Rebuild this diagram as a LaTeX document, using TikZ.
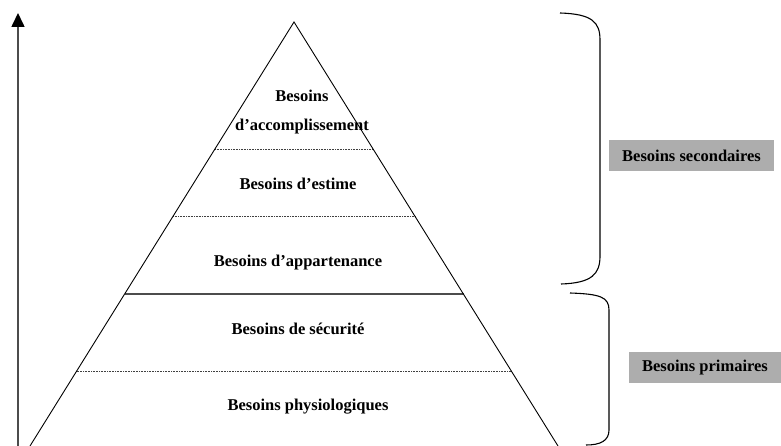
\documentclass[tikz,border=0pt]{standalone}
\usepackage{fontspec}
\setmainfont{Liberation Serif}
\usetikzlibrary{arrows.meta}
\begin{document}
\begin{tikzpicture}[x=1pt,y=-1pt,
  lbl/.style={font=\fontsize{16.5}{20}\selectfont\bfseries, inner sep=0pt, align=center},
  greybox/.style={lbl, fill=black!32, minimum height=31pt, inner sep=0pt},
  edge/.style={line width=0.9pt, black},
  sep/.style={line width=0.7pt, black!75, dash pattern=on 0.8pt off 0.8pt},
  mainsep/.style={line width=1.6pt, black!70},
  bracket/.style={line width=1.1pt, black},
  axis/.style={line width=1.6pt, black!70, -{Triangle[length=14pt,width=13pt,color=black,fill=black]}}
]
\useasboundingbox (0,0) rectangle (781,446);
% coordinates of the pyramid
\coordinate (apex) at (294,22);
\coordinate (bl) at (30,446);
\coordinate (br) at (558,446);
\coordinate (l1) at (214.9,149); \coordinate (r1) at (373.1,149);
\coordinate (l2) at (173.1,216); \coordinate (r2) at (414.9,216);
\coordinate (l3) at (124.5,294); \coordinate (r3) at (463.5,294);
\coordinate (l4) at (76.6,371);  \coordinate (r4) at (511.4,371);
% axis
\coordinate (axbot) at (18,447);
\coordinate (axtop) at (18,13);
\draw[axis] (axbot) -- (axtop);
% separators
\draw[sep] (l1) -- (r1);
\draw[sep] (l2) -- (r2);
\draw[sep] (l4) -- (r4);
\draw[mainsep] (l3) -- (r3);
% pyramid sides
\draw[edge] (bl) -- (apex) -- (br);
% level labels
\node[lbl] (acc) at (302,112) {Besoins\\[9pt]d’accomplissement};
\node[lbl] (est) at (298,184) {Besoins d’estime};
\node[lbl] (app) at (298,263) {Besoins d’appartenance};
\node[lbl] (sec) at (298,329) {Besoins de sécurité};
\node[lbl] (phy) at (308,407) {Besoins physiologiques};
% brackets
\coordinate (b1t) at (560,13);
\coordinate (b1b) at (561,284);
\draw[bracket] (b1t) .. controls (592,14) and (600,22) .. (600,40) -- (600,256)
  .. controls (600,274) and (592,283) .. (b1b);
\coordinate (b2t) at (570,293);
\coordinate (b2b) at (586,445);
\draw[bracket] (b2t) .. controls (600,294) and (609,297) .. (609,310) -- (609,430)
  .. controls (609,441) and (600,445) .. (b2b);
% group labels
\node[greybox, minimum width=165pt] (gsec) at (691.5,156) {Besoins secondaires};
\node[greybox, minimum width=153pt] (gpri) at (705,367.5) {Besoins primaires};
\end{tikzpicture}
\end{document}
